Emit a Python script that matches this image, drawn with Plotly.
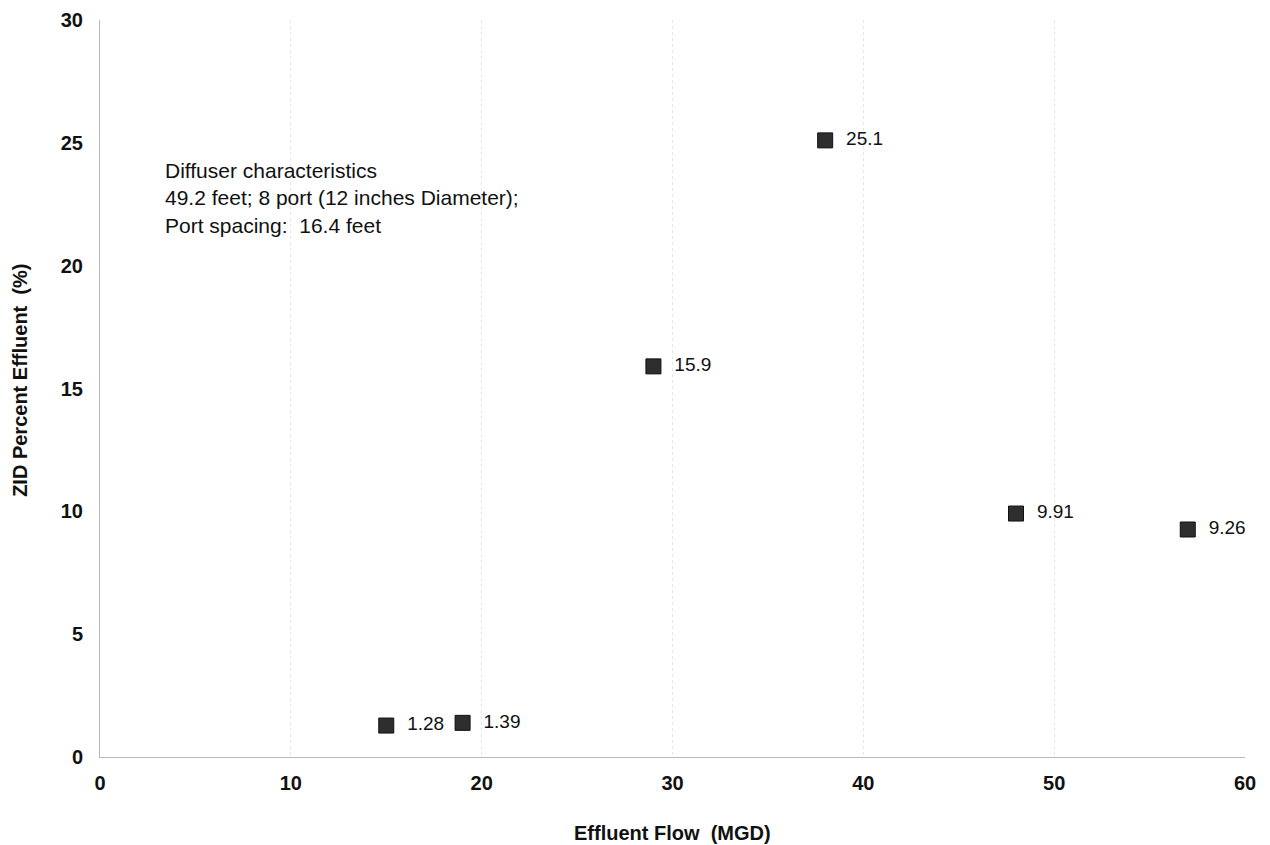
import plotly.graph_objects as go

flow = [15, 19, 29, 38, 48, 57]
zid = [1.28, 1.39, 15.9, 25.1, 9.91, 9.26]
labels = ["1.28", "1.39", "15.9", "25.1", "9.91", "9.26"]
x_ticks = [0, 10, 20, 30, 40, 50, 60]
y_ticks = [0, 5, 10, 15, 20, 25, 30]

FONT = "Liberation Sans, Arial"

fig = go.Figure()
fig.add_trace(go.Scatter(
    x=flow, y=zid, mode="markers+text",
    text=["  " + l for l in labels], textposition="middle right",
    textfont=dict(family=FONT, size=19, color="#111"),
    marker=dict(symbol="square", size=15, color="#2e2e2e",
                line=dict(color="#111", width=1)),
    showlegend=False, cliponaxis=False,
))

fig.add_annotation(
    x=3.3, y=24.42, xref="x", yref="y", xanchor="left", yanchor="top",
    align="left", showarrow=False,
    text="Diffuser characteristics<br>49.2 feet; 8 port (12 inches Diameter);<br>Port spacing:  16.4 feet",
    font=dict(family=FONT, size=21, color="#111"),
)

# axis titles as annotations for exact placement
fig.add_annotation(
    x=0.5, y=-0.103, xref="paper", yref="paper", xanchor="center", yanchor="middle",
    showarrow=False, text="Effluent Flow  (MGD)",
    font=dict(family=FONT, size=20, weight="bold", color="#111"),
)
fig.add_annotation(
    x=-0.07, y=0.5115, xref="paper", yref="paper", xanchor="center", yanchor="middle",
    showarrow=False, text="ZID Percent Effluent  (%)", textangle=-90,
    font=dict(family=FONT, size=20, weight="bold", color="#111"),
)

fig.update_layout(
    width=1262, height=837,
    margin=dict(l=92, r=25, t=12, b=88, autoexpand=False),
    paper_bgcolor="white", plot_bgcolor="white",
    font=dict(family=FONT, color="#111"),
)
fig.update_xaxes(
    range=[0, 60], tickvals=x_ticks, ticktext=[str(v) for v in x_ticks],
    showgrid=True, gridcolor="#e6e6e6", griddash="dot", gridwidth=1,
    showline=True, linecolor="#b8b8b8", linewidth=1, zeroline=False,
    ticks="", ticklabelstandoff=8, automargin=False,
    tickfont=dict(size=20, family=FONT, weight="bold", color="#111"),
)
fig.update_yaxes(
    range=[0, 30], tickvals=y_ticks, ticktext=[str(v) for v in y_ticks],
    showgrid=False, showline=True, linecolor="#b8b8b8", linewidth=1, zeroline=False,
    ticks="", ticklabelstandoff=12, automargin=False,
    tickfont=dict(size=20, family=FONT, weight="bold", color="#111"),
)

fig.write_html("out.html")
